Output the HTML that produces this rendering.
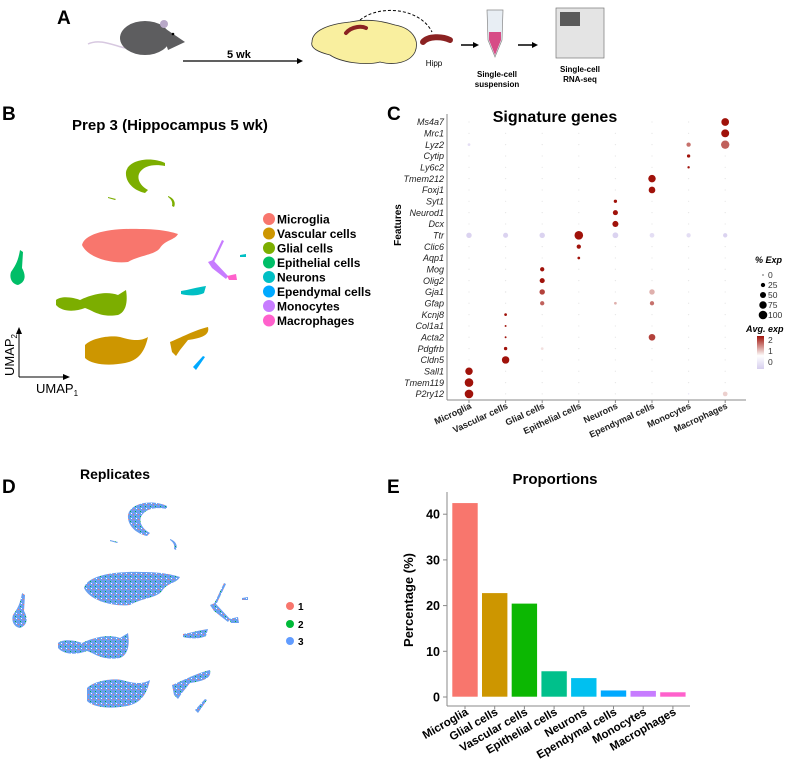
<!DOCTYPE html>
<html><head><meta charset="utf-8"><style>
body{margin:0;background:#fff}
svg{display:block;font-family:"Liberation Sans",Arial,sans-serif}
</style></head><body>
<svg id="fig" width="789" height="768" viewBox="0 0 789 768">
<defs>
<pattern id="repPat" width="5" height="5" patternUnits="userSpaceOnUse">
<rect width="5" height="5" fill="#6a9ff0"/>
<rect x="1" y="1" width="1" height="1" fill="#F8766D"/>
<rect x="3" y="3" width="1" height="1" fill="#00BA38"/>
<rect x="4" y="0" width="1" height="1" fill="#ffffff"/>
</pattern>
</defs>
<!-- Panel letters -->
<g font-weight="bold" font-size="19">
<text x="57" y="24">A</text>
<text x="2" y="120">B</text>
<text x="387" y="120">C</text>
<text x="2" y="493">D</text>
<text x="387" y="493">E</text>
</g>
<!-- Panel A schematic -->
<g>
<path d="M88,44 C100,38 115,46 125,48" stroke="#d7c8e0" stroke-width="1.5" fill="none"/>
<ellipse cx="145" cy="38" rx="25" ry="17" fill="#5d5d5f"/>
<path d="M160,25 L185,42 L168,50 Z" fill="#5d5d5f"/>
<circle cx="164" cy="24" r="4" fill="#b8a8c8"/>
<circle cx="173" cy="34" r="1.3" fill="#000"/>
<line x1="183" y1="61" x2="300" y2="61" stroke="#000" stroke-width="1.3"/>
<path d="M303,61 L297,58 L297,64 Z" fill="#000"/>
<text x="227" y="58" font-size="11" font-weight="bold">5 wk</text>
<path d="M312,42 C312,30 330,24 350,22 C370,18 385,22 395,25 C412,28 420,40 415,52 C410,62 395,66 380,62 C365,66 340,62 330,55 C318,52 310,48 312,42 Z" fill="#f9ef9f" stroke="#333" stroke-width="0.8"/>
<path d="M346,33 C352,26 362,26 366,28" stroke="#8b2222" stroke-width="4" fill="none" stroke-linecap="round"/>
<path d="M360,20 C380,4 420,8 432,32" stroke="#000" stroke-width="1" stroke-dasharray="3,2" fill="none"/>
<path d="M423,42 C428,36 442,36 450,40" stroke="#8b2222" stroke-width="6" fill="none" stroke-linecap="round"/>
<text x="434" y="66" font-size="8" text-anchor="middle">Hipp</text>
<line x1="461" y1="45" x2="474" y2="45" stroke="#000" stroke-width="1.5"/><path d="M479,45 L473,42 L473,48 Z"/>
<path d="M487,10 L503,10 L502,40 L495,57 L488,40 Z" fill="#e8eef4" stroke="#888" stroke-width="0.7"/>
<path d="M489,32 L501,32 L501,40 L495,55 L489,40 Z" fill="#d2236a" opacity="0.8"/>
<text x="497" y="77" font-size="8" font-weight="bold" text-anchor="middle"><tspan x="497">Single-cell</tspan><tspan x="497" dy="10">suspension</tspan></text>
<line x1="518" y1="45" x2="533" y2="45" stroke="#000" stroke-width="1.5"/><path d="M538,45 L532,42 L532,48 Z"/>
<rect x="556" y="8" width="48" height="50" fill="#e4e4e4" stroke="#777" stroke-width="0.7"/>
<rect x="560" y="12" width="20" height="14" fill="#5a5a5a"/>
<text x="580" y="72" font-size="8" font-weight="bold" text-anchor="middle"><tspan x="580">Single-cell</tspan><tspan x="580" dy="10">RNA-seq</tspan></text>
</g>
<!-- Panel B -->
<text x="170" y="130" font-size="15" font-weight="bold" text-anchor="middle">Prep 3 (Hippocampus 5 wk)</text>
<g id="umapB">
<path data-c="2" d="M165,163 C150,156 128,160 126,172 C125,183 135,191 145,193 L148,190 C140,186 136,178 140,172 C145,165 155,164 165,166 Z"/>
<path data-c="0" d="M82,245 C85,233 110,228 140,229 C160,229 172,232 178,234 C175,240 165,240 160,248 C155,255 140,255 128,262 C112,264 88,258 82,245 Z"/>
<path data-c="3" d="M20,250 L23,252 L22,268 C26,275 26,282 18,285 C12,284 9,278 11,272 C15,266 18,262 20,250 Z"/>
<path data-c="2" d="M56,300 C62,295 75,298 80,300 C88,296 105,290 118,295 L126,290 C128,302 126,312 118,315 C100,318 92,310 85,308 C75,312 62,312 56,305 Z"/>
<path data-c="1" d="M85,345 C92,338 110,335 120,337 C130,340 140,342 148,337 C145,350 140,360 125,363 C110,366 92,365 85,358 Z"/>
<path data-c="1" d="M170,342 C180,338 195,330 208,327 C210,335 202,338 188,340 L180,350 L176,356 L172,352 Z"/>
<path data-c="5" d="M193,367 L203,356 L205,357 L196,370 Z"/>
<path data-c="4" d="M181,291 C188,290 198,287 206,286 L204,293 C198,296 188,296 181,294 Z"/>
<path data-c="6" d="M208,262 L213,260 L228,276 L226,279 L212,268 Z"/>
<path data-c="7" d="M227,276 L236,274 L237,280 L229,280 Z"/>
<path data-c="6" d="M212,261 L222,240 L224,241 L214,262 Z"/>
<path data-c="2" d="M168,196 C174,198 176,203 174,207 L172,206 C173,202 171,199 168,197 Z"/>
<path data-c="4" d="M240,255 L246,254 L246,257 L240,257 Z"/>
<path data-c="2" d="M108,197 L116,199 L115,200 L108,198 Z"/>
</g>
<g id="legendB" font-size="12" font-weight="bold"></g>
<g>
<line x1="19" y1="377" x2="19" y2="330" stroke="#000" stroke-width="1"/><path d="M19,327 L16,334 L22,334 Z"/>
<line x1="19" y1="377" x2="66" y2="377" stroke="#000" stroke-width="1"/><path d="M70,377 L63,374 L63,380 Z"/>
<text x="14" y="376" font-size="13" transform="rotate(-90 14 376)">UMAP<tspan font-size="8" dy="3">2</tspan></text>
<text x="36" y="393" font-size="13">UMAP<tspan font-size="8" dy="3">1</tspan></text>
</g>
<!-- Panel D -->
<text x="115" y="479" font-size="14" font-weight="bold" text-anchor="middle">Replicates</text>
<g id="umapD" transform="translate(2,343)"></g>
<g font-size="10" font-weight="bold">
<circle cx="290" cy="606" r="4" fill="#F8766D"/><text x="298" y="610">1</text>
<circle cx="290" cy="624" r="4" fill="#00BA38"/><text x="298" y="628">2</text>
<circle cx="290" cy="641" r="4" fill="#619CFF"/><text x="298" y="645">3</text>
</g>
<!-- Panel C dot plot -->
<g id="dot"></g>
<!-- Panel E bar chart -->
<g id="bar"></g>
</svg>
<script>
const NS="http://www.w3.org/2000/svg";
function mk(tag,attrs,parent,txt){const e=document.createElementNS(NS,tag);for(const k in attrs)e.setAttribute(k,attrs[k]);if(txt!==undefined)e.textContent=txt;parent.appendChild(e);return e;}
const clusterNames=["Microglia","Vascular cells","Glial cells","Epithelial cells","Neurons","Ependymal cells","Monocytes","Macrophages"];
const clusterColors=["#F8766D","#CD9600","#7CAE00","#00BE67","#00BFC4","#00A9FF","#C77CFF","#FF61CC"];
const ub=document.getElementById('umapB'),ud=document.getElementById('umapD');
[...ub.children].forEach(p=>{const c=+p.getAttribute('data-c');p.setAttribute('fill',clusterColors[c]);


const q=p.cloneNode();q.setAttribute('fill','url(#repPat)');ud.appendChild(q);

});
const lg=document.getElementById('legendB');
clusterNames.forEach((n,i)=>{const y=219+i*14.5;
const c=mk('circle',{cx:269,cy:y,r:6,fill:clusterColors[i]},lg);


const t=mk('text',{x:277,y:y+4.5},lg,n);

});

// ---------- dot plot data ----------
const genes=["Ms4a7","Mrc1","Lyz2","Cytip","Ly6c2","Tmem212","Foxj1","Syt1","Neurod1","Dcx","Ttr","Clic6","Aqp1","Mog","Olig2","Gja1","Gfap","Kcnj8","Col1a1","Acta2","Pdgfrb","Cldn5","Sall1","Tmem119","P2ry12"];
const dotCellTypes=["Microglia","Vascular cells","Glial cells","Epithelial cells","Neurons","Ependymal cells","Monocytes","Macrophages"];
const pctExp=[
[2,2,2,2,2,2,2,80],[2,2,2,2,2,2,2,85],[10,2,2,2,2,2,25,95],[2,2,2,2,2,2,15,2],[2,2,2,2,2,2,8,2],
[2,2,2,2,2,75,2,2],[2,2,2,2,2,60,2,2],[2,2,2,2,15,2,2,2],[2,2,2,2,35,2,2,2],[2,2,2,2,50,2,2,2],
[40,35,40,100,45,30,25,25],[2,2,2,25,2,2,2,2],[2,2,2,10,2,2,2,2],[2,2,25,2,2,2,2,2],[2,2,35,2,2,2,2,2],
[2,3,40,2,2,40,2,2],[2,2,25,2,10,25,2,2],[2,10,2,2,2,2,2,2],[2,5,2,2,2,2,2,2],[2,5,2,2,2,60,2,2],
[2,15,10,2,2,2,2,2],[2,75,2,2,2,2,2,2],[75,2,2,2,2,2,2,2],[100,2,2,2,2,2,2,2],[100,2,2,2,2,2,3,30]];
const avgExp=[
[0,0,0,0,0,0,0,2],[0,0,0,0,0,0,0,2],[-0.3,0,0,0,0,0,1.2,1.3],[0,0,0,0,0,0,2,0],[0,0,0,0,0,0,2,0],
[0,0,0,0,0,2,0,0],[0,0,0,0,0,2,0,0],[0,0,0,0,2,0,0,0],[0,0,0,0,2,0,0,0],[0,0,0,0,2,0,0,0],
[-0.5,-0.5,-0.5,2,-0.5,-0.3,-0.3,-0.5],[0,0,0,2,0,0,0,0],[0,0,0,2,0,0,0,0],[0,0,2,0,0,0,0,0],[0,0,2,0,0,0,0,0],
[0,0,1.5,0,0,0.8,0,0],[0,0,1.3,0,0.8,1.2,0,0],[0,2,0,0,0,0,0,0],[0,1.8,0,0,0,0,0,0],[0,1.8,0,0,0,1.5,0,0],
[0,2,0.5,0,0,0,0,0],[0,2,0,0,0,0,0,0],[2,0,0,0,0,0,0,0],[2,0,0,0,0,0,0,0],[2,0,0,0,0,0,-0.2,0.6]];
const sizeLegendVals=[0,25,50,75,100];
const colorLegendTicks=["2","1","0"];

const dot=document.getElementById('dot');
const dx0=469,dxStep=36.6,dy0=122,dyStep=11.33;
const xD=i=>dx0+i*dxStep, yD=j=>dy0+j*dyStep, rD=p=>Math.max(0.6,Math.sqrt(p/100)*4.3);
function lerp(a,b,t){return a.map((v,i)=>Math.round(v+(b[i]-v)*t));}
function colD(v){const lo=[214,206,238],mid=[255,255,255],hi=[160,18,10];
let c;if(v<=0.3){c=lerp(lo,mid,Math.min(1,Math.max(0,(v+0.6)/0.9)));}else c=lerp(mid,hi,Math.min(1,(v-0.3)/1.5));
return `rgb(${c[0]},${c[1]},${c[2]})`;}
let t=mk('text',{x:555,y:122,'font-size':16,'font-weight':'bold','text-anchor':'middle'},dot,'Signature genes');


mk('line',{x1:447,y1:114,x2:447,y2:400,stroke:'#888','stroke-width':1},dot);
mk('line',{x1:447,y1:400,x2:746,y2:400,stroke:'#888','stroke-width':1},dot);
t=mk('text',{x:401,y:225,'font-size':10,'font-weight':'bold','text-anchor':'middle',transform:'rotate(-90 401 225)'},dot,'Features');


genes.forEach((g,j)=>{
 const tt=mk('text',{x:444,y:yD(j)+3.2,'font-size':9,'font-style':'italic','text-anchor':'end',fill:'#222'},dot,g);
 
 
 dotCellTypes.forEach((c,i)=>{
  const p=pctExp[j][i],v=avgExp[j][i];
  const circ=mk('circle',{cx:xD(i),cy:yD(j),r:rD(p),fill:p<=3&&v===0?'#e6e6e6':colD(v)},dot);
  
  
 });
});
dotCellTypes.forEach((c,i)=>{
 const x=xD(i)+3,y=408;
 mk('line',{x1:xD(i),y1:400,x2:xD(i),y2:403,stroke:'#888'},dot);
 const tt=mk('text',{x:x,y:y,'font-size':9,'font-weight':'bold','text-anchor':'end',transform:`rotate(-25 ${x} ${y})`,fill:'#222'},dot,c);
 
 
});
t=mk('text',{x:755,y:263,'font-size':9,'font-weight':'bold','font-style':'italic'},dot,'% Exp');


sizeLegendVals.forEach((v,k)=>{const y=275+k*10;
 const c=mk('circle',{cx:763,cy:y,r:rD(v),fill:'#000'},dot);
 
 
 const tt=mk('text',{x:768,y:y+3,'font-size':8.5,fill:'#333'},dot,String(v));
 
 });
t=mk('text',{x:746,y:332,'font-size':9,'font-weight':'bold','font-style':'italic'},dot,'Avg. exp');


const defs=mk('defs',{},dot);const gr=mk('linearGradient',{id:'cg',x1:0,y1:0,x2:0,y2:1},defs);
mk('stop',{offset:'0',  'stop-color':colD(2.2)},gr);mk('stop',{offset:'0.6','stop-color':'#fff'},gr);mk('stop',{offset:'1','stop-color':colD(-0.6)},gr);
const cb=mk('rect',{x:757,y:336,width:7,height:33,fill:'url(#cg)'},dot);


colorLegendTicks.forEach((s,k)=>{const tt=mk('text',{x:768,y:343+k*11,'font-size':8.5,fill:'#333'},dot,s);
 
 });

// ---------- bar chart data ----------
const barCategories=["Microglia","Glial cells","Vascular cells","Epithelial cells","Neurons","Ependymal cells","Monocytes","Macrophages"];
const barValues=[42.5,22.8,20.5,5.7,4.2,1.5,1.4,1.1];
const barColors=["#F8766D","#CD9600","#0CB702","#00C08B","#00C0F0","#00A9FF","#C77CFF","#FF61CC"];
const yTicks=[0,10,20,30,40];
const bar=document.getElementById('bar');
const y0=697,pxPer=4.57,bx0=465,bStep=29.7,bw=26;
const yB=v=>y0-v*pxPer, xB=i=>bx0+i*bStep;
t=mk('text',{x:555,y:484,'font-size':15,'font-weight':'bold','text-anchor':'middle'},bar,'Proportions');


mk('line',{x1:447,y1:492,x2:447,y2:706,stroke:'#888'},bar);
mk('line',{x1:447,y1:706,x2:690,y2:706,stroke:'#888'},bar);
t=mk('text',{x:413,y:600,'font-size':13,'font-weight':'bold','text-anchor':'middle',transform:'rotate(-90 413 600)'},bar,'Percentage (%)');


yTicks.forEach(v=>{mk('line',{x1:443,y1:yB(v),x2:447,y2:yB(v),stroke:'#888'},bar);
 const tt=mk('text',{x:440,y:yB(v)+4.5,'font-size':12.5,'font-weight':'bold','text-anchor':'end'},bar,String(v));
 
 });
barCategories.forEach((c,i)=>{
 const r=mk('rect',{x:xB(i)-bw/2,y:yB(barValues[i]),width:bw,height:barValues[i]*pxPer,fill:barColors[i],stroke:'#fff','stroke-width':0.6},bar);
 
 
 mk('line',{x1:xB(i),y1:706,x2:xB(i),y2:709,stroke:'#888'},bar);
 const x=xB(i)+4,y=714;
 const tt=mk('text',{x:x,y:y,'font-size':11.5,'font-weight':'bold','text-anchor':'end',transform:`rotate(-30 ${x} ${y})`},bar,c);
 
 
});
</script>
</body></html>
